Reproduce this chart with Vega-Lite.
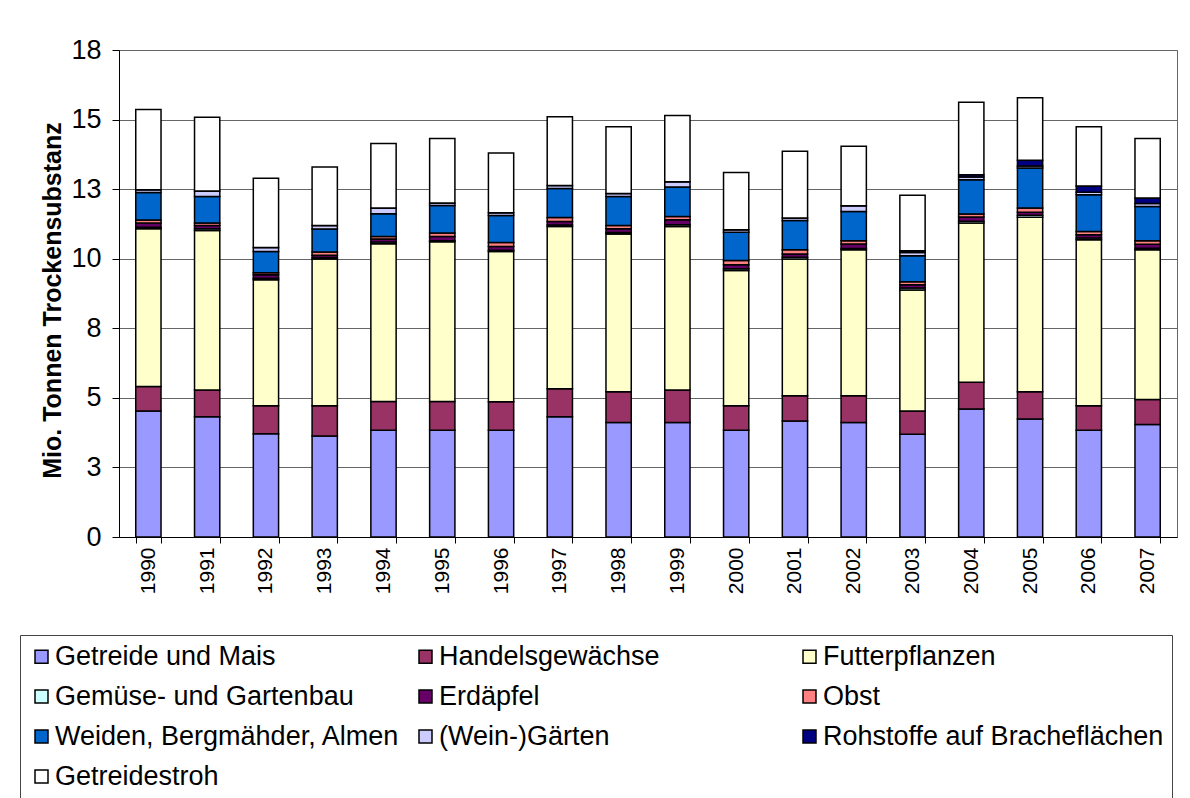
{
  "$schema": "https://vega.github.io/schema/vega-lite/v6.json",
  "width": 1058,
  "height": 487,
  "autosize": {"type": "none"},
  "padding": {"left": 119, "top": 50, "right": 13, "bottom": 261},
  "background": "white",
  "config": {
    "view": {"stroke": "#666", "strokeWidth": 1},
    "font": "Liberation Sans"
  },
  "datasets": {
    "wide": [
      {"Jahr": "1990", "A_Getreide": 4.53, "B_Handel": 0.88, "C_Futter": 5.67, "D_Gemuese": 0.05, "E_Erdaepfel": 0.15, "F_Obst": 0.11, "G_Weiden": 0.99, "H_Wein": 0.10, "I_Rohstoffe": 0, "J_Stroh": 2.88},
      {"Jahr": "1991", "A_Getreide": 4.32, "B_Handel": 0.96, "C_Futter": 5.73, "D_Gemuese": 0.07, "E_Erdaepfel": 0.11, "F_Obst": 0.09, "G_Weiden": 0.96, "H_Wein": 0.19, "I_Rohstoffe": 0, "J_Stroh": 2.65},
      {"Jahr": "1992", "A_Getreide": 3.71, "B_Handel": 1.01, "C_Futter": 4.52, "D_Gemuese": 0.06, "E_Erdaepfel": 0.12, "F_Obst": 0.08, "G_Weiden": 0.76, "H_Wein": 0.14, "I_Rohstoffe": 0, "J_Stroh": 2.49},
      {"Jahr": "1993", "A_Getreide": 3.63, "B_Handel": 1.09, "C_Futter": 5.27, "D_Gemuese": 0.05, "E_Erdaepfel": 0.08, "F_Obst": 0.12, "G_Weiden": 0.83, "H_Wein": 0.12, "I_Rohstoffe": 0, "J_Stroh": 2.11},
      {"Jahr": "1994", "A_Getreide": 3.84, "B_Handel": 1.03, "C_Futter": 5.67, "D_Gemuese": 0.06, "E_Erdaepfel": 0.11, "F_Obst": 0.09, "G_Weiden": 0.82, "H_Wein": 0.20, "I_Rohstoffe": 0, "J_Stroh": 2.32},
      {"Jahr": "1995", "A_Getreide": 3.84, "B_Handel": 1.03, "C_Futter": 5.74, "D_Gemuese": 0.04, "E_Erdaepfel": 0.15, "F_Obst": 0.12, "G_Weiden": 0.99, "H_Wein": 0.09, "I_Rohstoffe": 0, "J_Stroh": 2.32},
      {"Jahr": "1996", "A_Getreide": 3.84, "B_Handel": 1.02, "C_Futter": 5.40, "D_Gemuese": 0.04, "E_Erdaepfel": 0.14, "F_Obst": 0.14, "G_Weiden": 0.97, "H_Wein": 0.10, "I_Rohstoffe": 0, "J_Stroh": 2.15},
      {"Jahr": "1997", "A_Getreide": 4.32, "B_Handel": 1.01, "C_Futter": 5.83, "D_Gemuese": 0.05, "E_Erdaepfel": 0.13, "F_Obst": 0.14, "G_Weiden": 1.04, "H_Wein": 0.11, "I_Rohstoffe": 0, "J_Stroh": 2.47},
      {"Jahr": "1998", "A_Getreide": 4.11, "B_Handel": 1.11, "C_Futter": 5.67, "D_Gemuese": 0.05, "E_Erdaepfel": 0.14, "F_Obst": 0.11, "G_Weiden": 1.05, "H_Wein": 0.10, "I_Rohstoffe": 0, "J_Stroh": 2.40},
      {"Jahr": "1999", "A_Getreide": 4.11, "B_Handel": 1.17, "C_Futter": 5.88, "D_Gemuese": 0.06, "E_Erdaepfel": 0.18, "F_Obst": 0.12, "G_Weiden": 1.06, "H_Wein": 0.19, "I_Rohstoffe": 0, "J_Stroh": 2.38},
      {"Jahr": "2000", "A_Getreide": 3.84, "B_Handel": 0.88, "C_Futter": 4.86, "D_Gemuese": 0.06, "E_Erdaepfel": 0.14, "F_Obst": 0.16, "G_Weiden": 1.01, "H_Wein": 0.09, "I_Rohstoffe": 0, "J_Stroh": 2.06},
      {"Jahr": "2001", "A_Getreide": 4.17, "B_Handel": 0.91, "C_Futter": 4.91, "D_Gemuese": 0.06, "E_Erdaepfel": 0.12, "F_Obst": 0.15, "G_Weiden": 1.05, "H_Wein": 0.09, "I_Rohstoffe": 0, "J_Stroh": 2.40},
      {"Jahr": "2002", "A_Getreide": 4.11, "B_Handel": 0.97, "C_Futter": 5.24, "D_Gemuese": 0.05, "E_Erdaepfel": 0.16, "F_Obst": 0.12, "G_Weiden": 1.05, "H_Wein": 0.20, "I_Rohstoffe": 0, "J_Stroh": 2.14},
      {"Jahr": "2003", "A_Getreide": 3.69, "B_Handel": 0.84, "C_Futter": 4.35, "D_Gemuese": 0.07, "E_Erdaepfel": 0.11, "F_Obst": 0.11, "G_Weiden": 0.94, "H_Wein": 0.11, "I_Rohstoffe": 0.07, "J_Stroh": 1.99},
      {"Jahr": "2004", "A_Getreide": 4.60, "B_Handel": 0.96, "C_Futter": 5.72, "D_Gemuese": 0.07, "E_Erdaepfel": 0.15, "F_Obst": 0.11, "G_Weiden": 1.23, "H_Wein": 0.10, "I_Rohstoffe": 0.08, "J_Stroh": 2.60},
      {"Jahr": "2005", "A_Getreide": 4.24, "B_Handel": 0.98, "C_Futter": 6.27, "D_Gemuese": 0.07, "E_Erdaepfel": 0.11, "F_Obst": 0.15, "G_Weiden": 1.44, "H_Wein": 0.07, "I_Rohstoffe": 0.21, "J_Stroh": 2.24},
      {"Jahr": "2006", "A_Getreide": 3.84, "B_Handel": 0.88, "C_Futter": 5.96, "D_Gemuese": 0.06, "E_Erdaepfel": 0.12, "F_Obst": 0.12, "G_Weiden": 1.32, "H_Wein": 0.09, "I_Rohstoffe": 0.22, "J_Stroh": 2.13},
      {"Jahr": "2007", "A_Getreide": 4.04, "B_Handel": 0.90, "C_Futter": 5.38, "D_Gemuese": 0.06, "E_Erdaepfel": 0.14, "F_Obst": 0.13, "G_Weiden": 1.23, "H_Wein": 0.10, "I_Rohstoffe": 0.20, "J_Stroh": 2.14}
    ]
  },
  "data": {"name": "wide"},
  "transform": [
    {"fold": ["A_Getreide", "B_Handel", "C_Futter", "D_Gemuese", "E_Erdaepfel", "F_Obst", "G_Weiden", "H_Wein", "I_Rohstoffe", "J_Stroh"], "as": ["Kat", "Wert"]}
  ],
  "mark": {"type": "bar", "stroke": "black", "strokeWidth": 1.5},
  "encoding": {
    "x": {
      "field": "Jahr",
      "type": "ordinal",
      "scale": {"paddingInner": 0.57, "paddingOuter": 0.285},
      "axis": {
        "title": null,
        "labelAngle": -90,
        "labelAlign": "right",
        "labelBaseline": "middle",
        "labelFontSize": 21,
        "labelColor": "black",
        "labelPadding": 4,
        "tickBand": "extent",
        "tickSize": 6,
        "tickColor": "black",
        "domainColor": "black",
        "grid": false
      }
    },
    "y": {
      "field": "Wert",
      "type": "quantitative",
      "stack": "zero",
      "scale": {"domain": [0, 17.5], "nice": false},
      "axis": {
        "values": [0, 2.5, 5, 7.5, 10, 12.5, 15, 17.5],
        "format": ".0f",
        "title": "Mio. Tonnen Trockensubstanz",
        "titleFontSize": 25,
        "titleFontWeight": "bold",
        "titleColor": "black",
        "titleAngle": -90,
        "titleAlign": "center",
        "titleBaseline": "middle",
        "titleX": -67,
        "titleY": 250,
        "labelFontSize": 27,
        "labelColor": "black",
        "labelPadding": 11,
        "tickSize": 7,
        "tickColor": "black",
        "domainColor": "black",
        "gridColor": "#666"
      }
    },
    "order": {"field": "Kat", "type": "nominal", "sort": "ascending"},
    "color": {
      "field": "Kat",
      "type": "nominal",
      "scale": {
        "domain": ["A_Getreide", "B_Handel", "C_Futter", "D_Gemuese", "E_Erdaepfel", "F_Obst", "G_Weiden", "H_Wein", "I_Rohstoffe", "J_Stroh"],
        "range": ["#9999FF", "#993366", "#FFFFCC", "#CCFFFF", "#660066", "#FF8080", "#0066CC", "#CCCCFF", "#000080", "#FFFFFF"]
      },
      "legend": {
        "title": null,
        "orient": "none",
        "legendX": -99,
        "legendY": 585,
        "direction": "horizontal",
        "columns": 3,
        "gridAlign": "all",
        "columnPadding": 12,
        "rowPadding": 12,
        "padding": 8,
        "strokeColor": "#444",
        "fillColor": "white",
        "labelFontSize": 27,
        "labelLimit": 600,
        "labelColor": "black",
        "labelOffset": 0,
        "symbolType": "square",
        "symbolSize": 169,
        "symbolStrokeColor": "black",
        "symbolStrokeWidth": 1.5,
        "symbolOpacity": 1,
        "labelExpr": "{'A_Getreide': 'Getreide und Mais', 'B_Handel': 'Handelsgewächse', 'C_Futter': 'Futterpflanzen', 'D_Gemuese': 'Gemüse- und Gartenbau', 'E_Erdaepfel': 'Erdäpfel', 'F_Obst': 'Obst', 'G_Weiden': 'Weiden, Bergmähder, Almen', 'H_Wein': '(Wein-)Gärten', 'I_Rohstoffe': 'Rohstoffe auf Bracheflächen', 'J_Stroh': 'Getreidestroh'}[datum.value]"
      }
    }
  }
}
